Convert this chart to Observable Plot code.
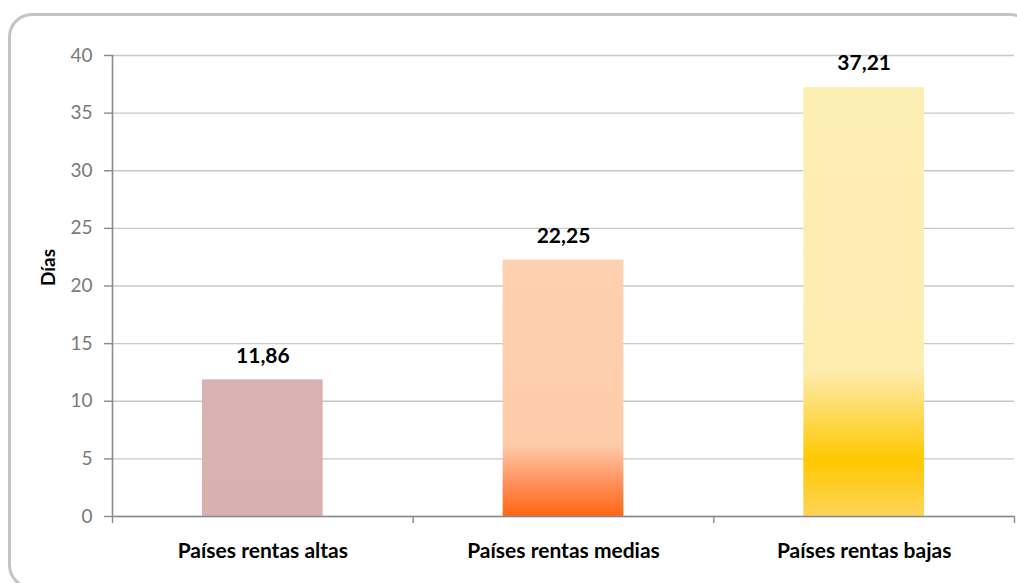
<!DOCTYPE html>
<html>
<head>
<meta charset="utf-8">
<script src="https://cdn.jsdelivr.net/npm/d3@7"></script>
<script src="https://cdn.jsdelivr.net/npm/@observablehq/plot@0.6"></script>
<style>
  html, body { margin: 0; padding: 0; background: #fff; }
  #wrap { position: relative; width: 1017px; height: 583px; overflow: hidden; background: #fff; }
  #frame { position: absolute; left: 8px; top: 13px; width: 1026px; height: 576px; box-sizing: border-box;
           border: 3px solid #c4c4c4; border-radius: 24px; pointer-events: none; }
  #chart { position: absolute; left: 0; top: 0; }
</style>
</head>
<body>
<div id="wrap"><div id="chart"></div><div id="frame"></div></div>
<script>
const categorias = ["Países rentas altas", "Países rentas medias", "Países rentas bajas"];
const valores = [11.86, 22.25, 37.21];
const etiquetas = ["11,86", "22,25", "37,21"];
const yTicks = [0, 5, 10, 15, 20, 25, 30, 35, 40];
const xBordes = [0, 1, 2, 3];
const tituloY = "Días";

const datos = categorias.map((c, i) => ({c, i, v: valores[i], t: etiquetas[i]}));
const gradIds = ["g1", "g2", "g3"];
const FONT = "Lato, 'Open Sans', sans-serif";

const plot = Plot.plot({
  width: 1017,
  height: 583,
  marginLeft: 112,
  marginRight: 3,
  marginTop: 55,
  marginBottom: 67,
  style: {fontFamily: FONT, background: "transparent", overflow: "visible"},
  x: {domain: [0, 3], axis: null},
  y: {domain: [0, 40], axis: null},
  color: {type: "identity"},
  marks: [
    Plot.gridY(yTicks, {stroke: "#c8c8c8", strokeOpacity: 1, strokeWidth: 1.4}),
    Plot.rectY(datos, {x1: d => d.i, x2: d => d.i + 1, y: "v", insetLeft: 90, insetRight: 90,
      fill: d => `url(#${gradIds[d.i]})`}),
    Plot.axisY({ticks: yTicks, tickSize: 8, tickPadding: 12, stroke: "#8a8a8a", strokeWidth: 1.4,
      fill: "#7a7a7a", fontSize: 19, label: null}),
    Plot.axisX({ticks: xBordes, tickSize: 7, tickFormat: () => "", stroke: "#8a8a8a", strokeWidth: 1.4, label: null}),
    Plot.ruleX([0], {stroke: "#8a8a8a", strokeWidth: 1.6}),
    Plot.ruleY([0], {stroke: "#8a8a8a", strokeWidth: 1.6}),
    Plot.text(datos, {x: d => d.i + 0.5, y: "v", text: "t", dy: -24, lineAnchor: "middle",
      fontWeight: "bold", fontSize: 21, fill: "#000"}),
    Plot.text(datos, {x: d => d.i + 0.5, y: 0, text: "c", dy: 35, lineAnchor: "middle",
      fontWeight: "bold", fontSize: 21, fill: "#000"}),
    Plot.text([tituloY], {frameAnchor: "left", text: d => d, rotate: -90, dx: -64, lineAnchor: "middle",
      fontWeight: "bold", fontSize: 19, fill: "#000"})
  ]
});

// gradient definitions for bar fills
const svg = d3.select(plot);
const defs = svg.insert("defs", ":first-child");
const grads = {
  g1: [[0, "#d9b3b3"], [1, "#d8b0b0"]],
  g2: [[0, "#fdd0b0"], [0.72, "#fdccaa"], [0.86, "#ff9463"], [1, "#ff6610"]],
  g3: [[0, "#fdeeb3"], [0.66, "#fdecae"], [0.87, "#ffc800"], [1, "#fdd458"]]
};
for (const [id, stops] of Object.entries(grads)) {
  const g = defs.append("linearGradient").attr("id", id).attr("x1", 0).attr("y1", 0).attr("x2", 0).attr("y2", 1);
  for (const [o, c] of stops) g.append("stop").attr("offset", o).attr("stop-color", c);
}

document.getElementById("chart").appendChild(plot);
</script>
</body>
</html>
